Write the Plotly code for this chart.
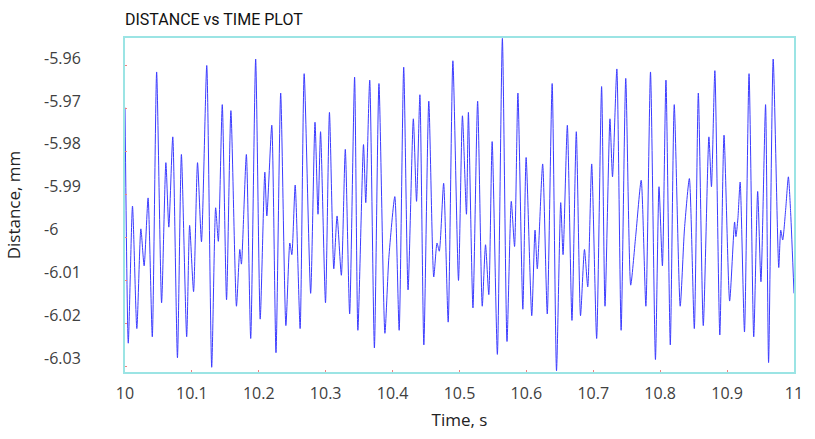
import plotly.graph_objects as go

# Time (s) and distance (mm) (local peaks / troughs)
time_s = [
    10.0000, 10.0049, 10.0112, 10.0177, 10.0237, 10.0286, 10.0345, 10.0408, 10.0473, 10.0547,
    10.0611, 10.0655, 10.0714, 10.0784, 10.0843, 10.0922, 10.0966, 10.1025, 10.1084, 10.1143,
    10.1222, 10.1296, 10.1355, 10.1395, 10.1454, 10.1518, 10.1583, 10.1666, 10.1716, 10.1740,
    10.1814, 10.1879, 10.1953, 10.2021, 10.2090, 10.2120, 10.2194, 10.2257, 10.2327, 10.2405,
    10.2464, 10.2494, 10.2544, 10.2618, 10.2678, 10.2775, 10.2840, 10.2885, 10.2923, 10.2997,
    10.3056, 10.3121, 10.3170, 10.3234, 10.3293, 10.3358, 10.3432, 10.3481, 10.3565, 10.3599,
    10.3658, 10.3728, 10.3796, 10.3885, 10.3944, 10.4033, 10.4098, 10.4166, 10.4231, 10.4310,
    10.4358, 10.4408, 10.4467, 10.4541, 10.4615, 10.4664, 10.4698, 10.4763, 10.4831, 10.4901,
    10.4985, 10.5044, 10.5104, 10.5133, 10.5201, 10.5271, 10.5340, 10.5389, 10.5438, 10.5488,
    10.5566, 10.5641, 10.5710, 10.5774, 10.5823, 10.5873, 10.5947, 10.5996, 10.6080, 10.6129,
    10.6163, 10.6243, 10.6312, 10.6385, 10.6450, 10.6513, 10.6548, 10.6612, 10.6681, 10.6746,
    10.6809, 10.6868, 10.6917, 10.6976, 10.7050, 10.7124, 10.7175, 10.7249, 10.7287, 10.7352,
    10.7416, 10.7485, 10.7559, 10.7633, 10.7716, 10.7786, 10.7855, 10.7929, 10.7982, 10.8033,
    10.8086, 10.8151, 10.8210, 10.8299, 10.8363, 10.8436, 10.8510, 10.8570, 10.8644, 10.8728,
    10.8766, 10.8817, 10.8891, 10.8954, 10.9038, 10.9112, 10.9132, 10.9161, 10.9195, 10.9260,
    10.9328, 10.9398, 10.9457, 10.9506, 10.9575, 10.9620, 10.9689, 10.9772, 10.9802, 10.9831,
    10.9876, 10.9916, 10.9950, 11.0000,
]
distance_mm = [
    -5.9698, -6.0246, -5.9927, -6.0212, -5.9980, -6.0066, -5.9908, -6.0231, -5.9615, -6.0152,
    -5.9826, -5.9976, -5.9766, -6.0280, -5.9807, -6.0231, -5.9972, -6.0126, -5.9826, -6.0010,
    -5.9600, -6.0302, -5.9931, -6.0009, -5.9691, -6.0145, -5.9705, -6.0160, -6.0028, -6.0062,
    -5.9807, -6.0235, -5.9585, -6.0190, -5.9848, -5.9950, -5.9739, -6.0268, -5.9664, -6.0205,
    -6.0013, -6.0040, -5.9878, -6.0212, -5.9619, -6.0130, -5.9732, -5.9946, -5.9754, -6.0152,
    -5.9709, -6.0073, -5.9950, -6.0088, -5.9795, -6.0178, -5.9627, -6.0216, -5.9784, -5.9919,
    -5.9634, -6.0257, -5.9642, -6.0223, -6.0047, -5.9905, -6.0216, -5.9604, -6.0122, -5.9724,
    -5.9916, -5.9668, -6.0250, -5.9683, -6.0092, -6.0013, -6.0032, -5.9874, -6.0197, -5.9589,
    -6.0100, -5.9717, -5.9946, -5.9709, -6.0164, -5.9683, -6.0160, -6.0017, -6.0133, -5.9777,
    -6.0272, -5.9537, -6.0242, -5.9916, -6.0021, -5.9664, -6.0167, -5.9814, -6.0182, -5.9983,
    -6.0073, -5.9829, -6.0178, -5.9642, -6.0310, -5.9919, -6.0040, -5.9739, -6.0193, -5.9754,
    -6.0182, -6.0028, -6.0115, -5.9829, -6.0235, -5.9649, -6.0160, -5.9724, -5.9859, -5.9608,
    -6.0216, -5.9630, -6.0111, -5.9998, -5.9867, -6.0160, -5.9615, -6.0284, -5.9882, -6.0066,
    -5.9634, -6.0250, -5.9691, -6.0160, -5.9980, -5.9863, -6.0212, -5.9664, -6.0205, -5.9766,
    -5.9882, -5.9612, -6.0227, -5.9762, -6.0148, -5.9964, -5.9998, -5.9957, -5.9871, -6.0220,
    -5.9619, -6.0231, -5.9893, -6.0103, -5.9691, -6.0291, -5.9585, -6.0070, -5.9983, -6.0006,
    -5.9934, -5.9859, -5.9942, -6.0130,
]

x_ticks = [10, 10.1, 10.2, 10.3, 10.4, 10.5, 10.6, 10.7, 10.8, 10.9, 11]
x_tick_labels = ["10", "10.1", "10.2", "10.3", "10.4", "10.5", "10.6", "10.7", "10.8", "10.9", "11"]
y_ticks = [-5.96, -5.97, -5.98, -5.99, -6.0, -6.01, -6.02, -6.03]
y_tick_labels = ["-5.96", "-5.97", "-5.98", "-5.99", "-6", "-6.01", "-6.02", "-6.03"]

frame_color = "#9be4e4"
tick_font = dict(family="Open Sans, Segoe UI, sans-serif", size=16, color="#404040")
title_font = dict(family="Open Sans, Segoe UI, sans-serif", size=17, color="#222222")

fig = go.Figure()
fig.add_trace(go.Scatter(
    x=time_s, y=distance_mm, mode="lines",
    line=dict(color="#3b3bff", width=1, shape="spline", smoothing=0.6),
    showlegend=False, hoverinfo="x+y",
))

# y tick labels: left-aligned column, drawn slightly above their tick marks as in the reference
annotations = []
for v, lab in zip(y_ticks, y_tick_labels):
    annotations.append(dict(
        x=0, xref="paper", y=v, yref="y", text=lab, showarrow=False,
        xanchor="left", yanchor="middle", xshift=-83, yshift=8, font=tick_font,
    ))

fig.update_layout(
    width=815, height=439,
    margin=dict(l=125, r=13, t=38, b=56),
    paper_bgcolor="white", plot_bgcolor="white",
    title=dict(
        text="DISTANCE vs TIME PLOT", x=125 / 815, xanchor="left", y=1 - 19 / 439, yanchor="middle",
        font=dict(family="Roboto, sans-serif", size=16, color="#111111"),
    ),
    xaxis=dict(
        range=[10, 11], tickvals=x_ticks, ticktext=x_tick_labels,
        showline=True, linecolor=frame_color, linewidth=2, mirror=True,
        showgrid=False, zeroline=False, ticks="inside", ticklen=2, tickcolor="#f08080",
        tickfont=tick_font, ticklabelstandoff=6,
        title=dict(text="Time, s", font=title_font, standoff=11),
    ),
    yaxis=dict(
        range=[-6.0313, -5.9536], tickvals=y_ticks, showticklabels=False,
        showline=True, linecolor=frame_color, linewidth=2, mirror=True,
        showgrid=False, zeroline=False, ticks="inside", ticklen=2, tickcolor="#f08080",
        title=dict(text="Distance, mm", font=title_font, standoff=98),
    ),
    annotations=annotations,
)

fig.write_html(
    "out.html",
    config={"displayModeBar": False, "responsive": False},
    post_script=(
        "document.documentElement.style.margin='0px';"
        "document.documentElement.style.overflow='hidden';"
        "document.body.style.margin='0px';"
        "document.body.style.overflow='hidden';"
    ),
)
